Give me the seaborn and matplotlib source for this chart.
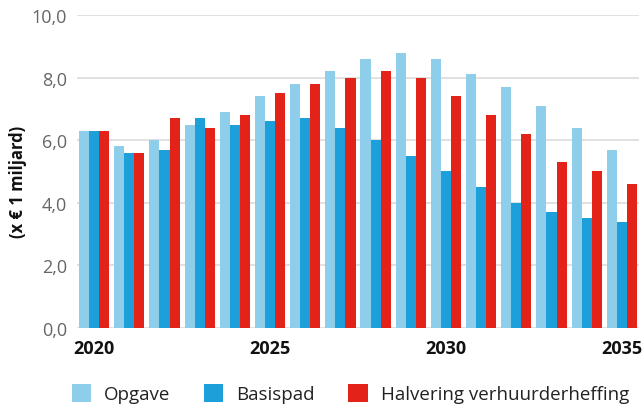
import matplotlib
matplotlib.use("Agg")
import matplotlib.pyplot as plt
from matplotlib.patches import Patch
import seaborn as sns
import pandas as pd

years = [str(y) for y in range(2020, 2036)]
opgave = [6.3, 5.8, 6.0, 6.5, 6.9, 7.4, 7.8, 8.2, 8.6, 8.8, 8.6, 8.1, 7.7, 7.1, 6.4, 5.7]
basispad = [6.3, 5.6, 5.7, 6.7, 6.5, 6.6, 6.7, 6.4, 6.0, 5.5, 5.0, 4.5, 4.0, 3.7, 3.5, 3.4]
halvering = [6.3, 5.6, 6.7, 6.4, 6.8, 7.5, 7.8, 8.0, 8.2, 8.0, 7.4, 6.8, 6.2, 5.3, 5.0, 4.6]
series_names = ["Opgave", "Basispad", "Halvering verhuurderheffing"]
colors = ["#8ECEEB", "#1D9FDA", "#E32219"]
yticks = [0, 2, 4, 6, 8, 10]
ytick_labels = ["0,0", "2,0", "4,0", "6,0", "8,0", "10,0"]
xtick_years = ["2020", "2025", "2030", "2035"]
ylabel = "(x € 1 miljard)"

rows = []
for name, vals in zip(series_names, [opgave, basispad, halvering]):
    for y, v in zip(years, vals):
        rows.append({"jaar": y, "reeks": name, "waarde": v})
df = pd.DataFrame(rows)

sns.set_style("white")
plt.rcParams["font.family"] = ["Open Sans", "DejaVu Sans"]

fig = plt.figure(figsize=(6.44, 4.10), dpi=100)
ax = fig.add_axes([0.1188, 0.1976, 0.8742, 0.7634])

sns.barplot(data=df, x="jaar", y="waarde", hue="reeks", order=years,
            hue_order=series_names, palette=colors, width=0.86, saturation=1,
            linewidth=0, edgecolor="none", errorbar=None, ax=ax, legend=False,
            zorder=3)

ax.set_xlim(-0.5, len(years) - 0.5)
ax.set_ylim(0, 10)
ax.set_yticks(yticks)
ax.set_yticklabels(ytick_labels, fontsize=13, color="#666666")
ax.set_xticks([years.index(y) for y in xtick_years])
ax.set_xticklabels(xtick_years, fontsize=13, fontweight="bold", color="#111111")
ax.tick_params(axis="both", length=0)
ax.tick_params(axis="y", pad=7)
ax.tick_params(axis="x", pad=8)
ax.set_xlabel("")
ax.set_ylabel("")
ax.yaxis.grid(True, color="#dcdcdc", linewidth=1.2, zorder=0)
ax.set_axisbelow(True)
for s in ax.spines.values():
    s.set_visible(False)

fig.text(18 / 644, 1 - 182 / 410, ylabel, rotation=90, ha="center", va="center",
         fontsize=12, fontweight="bold", color="#111111")

handles = [Patch(facecolor=c, edgecolor="none", label=n) for c, n in zip(colors, series_names)]
fig.legend(handles=handles, loc="center", bbox_to_anchor=(0.544, 0.037), ncol=3,
           frameon=False, fontsize=13.5, handlelength=1.05, handleheight=1.05,
           handletextpad=0.7, columnspacing=1.76, labelcolor="#222222",
           borderpad=0, borderaxespad=0)

fig.savefig("out.png", dpi=100)
